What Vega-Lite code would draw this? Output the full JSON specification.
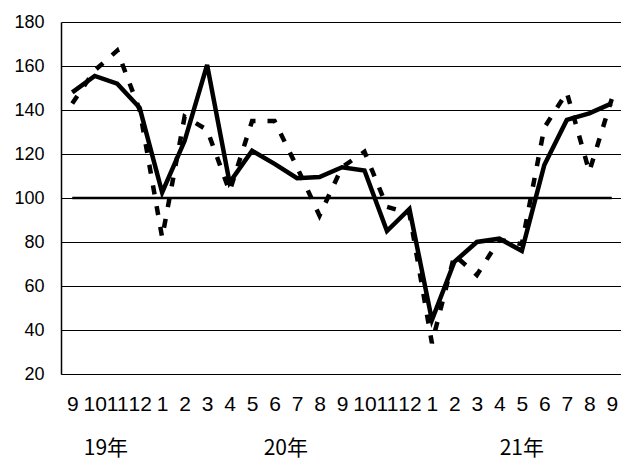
{
  "$schema": "https://vega.github.io/schema/vega-lite/v6.json",
  "width": 562,
  "height": 352,
  "autosize": {"type": "none"},
  "padding": {"left": 61, "top": 22, "right": 0, "bottom": 88},
  "background": "white",
  "config": {"view": {"stroke": null}, "axis": {"labelOverlap": false}},
  "datasets": {
    "series": [
      {"i": 0, "a": 148, "b": 143},
      {"i": 1, "a": 155.5, "b": 158},
      {"i": 2, "a": 152, "b": 167},
      {"i": 3, "a": 141, "b": 140},
      {"i": 4, "a": 102.5, "b": 82},
      {"i": 5, "a": 126, "b": 137},
      {"i": 6, "a": 160.5, "b": 131},
      {"i": 7, "a": 107, "b": 103},
      {"i": 8, "a": 121.5, "b": 135},
      {"i": 9, "a": 115.5, "b": 135},
      {"i": 10, "a": 109, "b": 114},
      {"i": 11, "a": 109.5, "b": 92},
      {"i": 12, "a": 114, "b": 114},
      {"i": 13, "a": 112.5, "b": 121},
      {"i": 14, "a": 85, "b": 96},
      {"i": 15, "a": 95, "b": 93},
      {"i": 16, "a": 44.5, "b": 34},
      {"i": 17, "a": 71, "b": 74},
      {"i": 18, "a": 80, "b": 65},
      {"i": 19, "a": 81.5, "b": 81},
      {"i": 20, "a": 76, "b": 79},
      {"i": 21, "a": 115, "b": 132},
      {"i": 22, "a": 135.5, "b": 148},
      {"i": 23, "a": 138.5, "b": 112},
      {"i": 24, "a": 143, "b": 145}
    ],
    "years": [
      {"t": "19年", "i": 1.5},
      {"t": "20年", "i": 9.5},
      {"t": "21年", "i": 20}
    ]
  },
  "encoding": {
    "x": {
      "field": "i", "type": "quantitative",
      "scale": {"domain": [-0.5, 24.5], "nice": false, "zero": false},
      "axis": {
        "title": null,
        "values": [0,1,2,3,4,5,6,7,8,9,10,11,12,13,14,15,16,17,18,19,20,21,22,23,24],
        "labelExpr": "['9','10','11','12','1','2','3','4','5','6','7','8','9','10','11','12','1','2','3','4','5','6','7','8','9'][datum.value]",
        "ticks": false,
        "grid": false,
        "domain": true,
        "domainColor": "#000",
        "domainWidth": 1,
        "labelFont": "Liberation Sans",
        "labelFontSize": 21,
        "labelColor": "#000",
        "labelPadding": 30,
        "labelBaseline": "middle",
        "labelFlush": false,
        "labelOverlap": false,
        "labelBound": false
      }
    }
  },
  "layer": [
    {
      "data": {"name": "series"},
      "mark": {"type": "line", "color": "#000", "strokeWidth": 2.5},
      "encoding": {
        "y": {
          "datum": 100, "type": "quantitative",
          "scale": {"domain": [20, 180], "nice": false, "zero": false},
          "axis": {
            "title": null,
            "values": [20,40,60,80,100,120,140,160,180],
            "ticks": false,
            "grid": true,
            "gridColor": "#000",
            "gridWidth": 1,
            "gridOpacity": 1,
            "domain": true,
            "domainColor": "#000",
            "domainWidth": 1.5,
            "labelFont": "Liberation Sans",
            "labelFontSize": 18,
            "labelColor": "#000",
            "labelPadding": 17,
            "labelFlush": false
          }
        }
      }
    },
    {
      "data": {"name": "series"},
      "mark": {"type": "line", "color": "#000", "strokeWidth": 4.5, "strokeDash": [9, 12], "strokeCap": "butt"},
      "encoding": {
        "y": {"field": "b", "type": "quantitative"}
      }
    },
    {
      "data": {"name": "series"},
      "mark": {"type": "line", "color": "#000", "strokeWidth": 4.5, "strokeJoin": "miter"},
      "encoding": {
        "y": {"field": "a", "type": "quantitative"}
      }
    },
    {
      "data": {"name": "years"},
      "mark": {"type": "text", "font": "Noto Sans CJK JP", "fontSize": 21, "color": "#000", "align": "center", "baseline": "middle"},
      "encoding": {
        "y": {"datum": -14, "type": "quantitative"},
        "text": {"field": "t"}
      }
    }
  ]
}
